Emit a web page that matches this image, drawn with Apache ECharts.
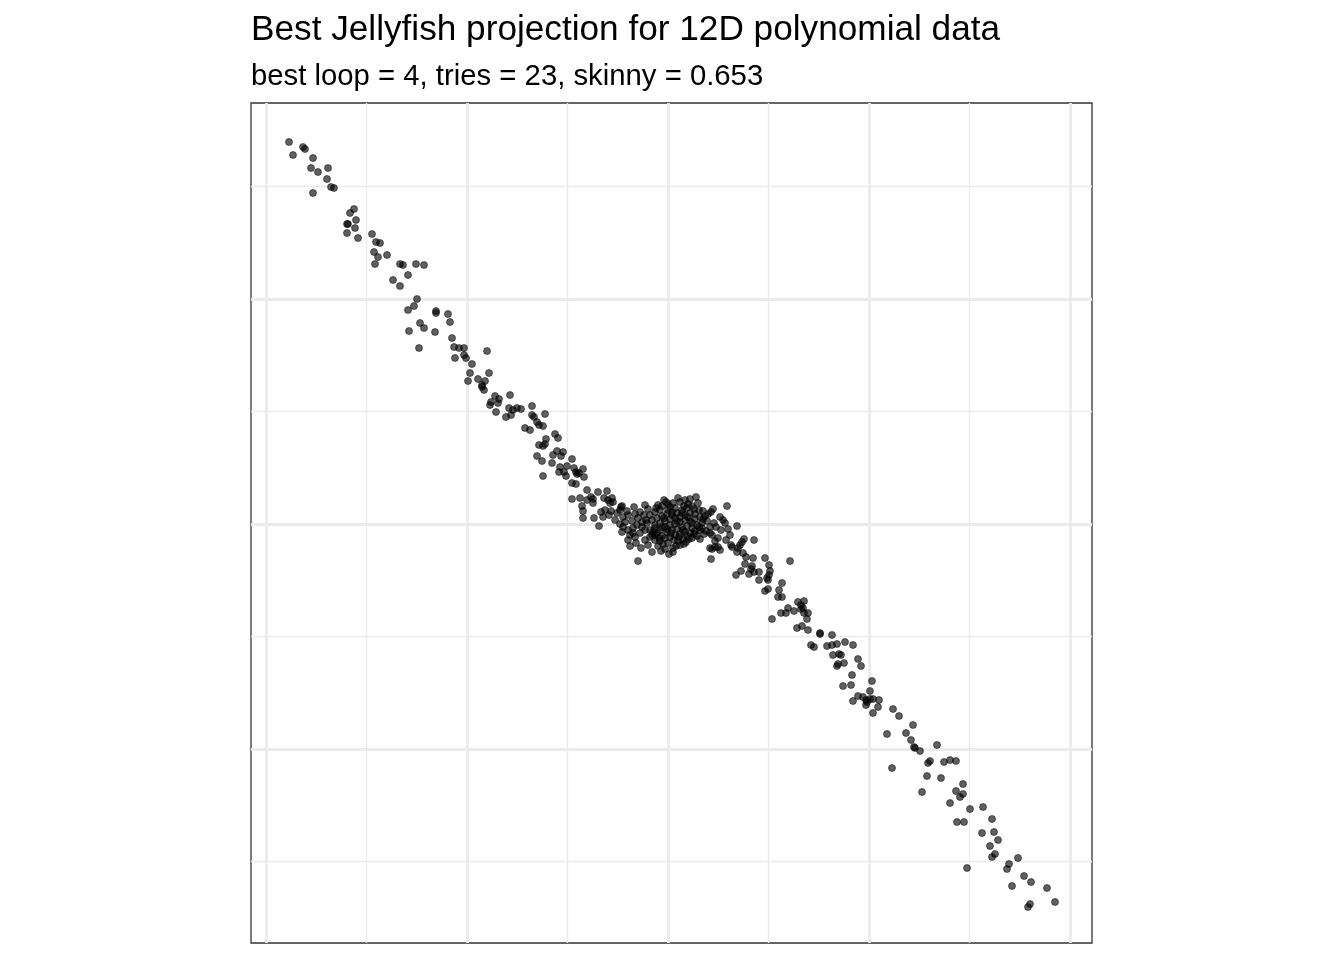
<!DOCTYPE html>
<html>
<head>
<meta charset="utf-8">
<script src="https://cdn.jsdelivr.net/npm/echarts@6/dist/echarts.min.js"></script>
<style>
html,body{margin:0;padding:0;background:#fff;}
#chart{width:1344px;height:960px;}
</style>
</head>
<body>
<div id="chart"></div>
<script>
// Projection coordinates (unit: plot pixels, origin at the central grid line)
const armUpperLeft = [
[-379,382],[-375,369],[-365,377],[-363,375],[-355,366],[-357,356],[-350,352],[-340,356],[-341,345],[-337,337],
[-334,336],[-355,331],[-314,315],[-318,311],[-312,304],[-321,300],[-320,300],[-313,296],[-321,291],[-310,286],
[-296,290],[-292,282],[-288,281],[-294,272],[-290,267],[-281,269],[-293,260],[-268,260],[-265,259],[-252,260],
[-244,259],[-260,249],[-275,244],[-268,238],[-251,225],[-260,214],[-254,218],[-232,213],[-232,211],[-220,210],
[-218,202],[-248,201],[-244,196],[-259,193],[-233,192],[-216,186],[-249,176],[-214,177],[-209,176],[-204,176],
[-213,166],[-204,169],[-202,166],[-196,160],[-181,173]
];
const armUpperMid = [
[-198,151],[-179,151],[-200,143],[-190,145],[-183,143],[-186,139],[-186,137],[-184,134],[-173,128],[-169,125],
[-158,129],[-177,122],[-178,119],[-170,121],[-172,112],[-159,116],[-155,114],[-151,116],[-147,115],[-157,109],
[-162,107],[-136,118],[-136,109],[-134,107],[-123,110],[-131,102],[-129,99],[-125,98],[-143,96],[-138,94],
[-113,90],[-110,86],[-122,85],[-129,79],[-125,78],[-123,80],[-111,73],[-115,69],[-105,72],[-107,68],
[-96,65],[-131,68],[-126,63],[-116,61],[-101,58],[-108,57],[-109,52],[-104,52],[-102,48],[-94,56],
[-92,52],[-91,50],[-85,55],[-84,47],[-89,51],[-125,48],[-96,41],[-92,40],[-81,34],[-70,32],
[-96,25],[-88,26],[-81,24],[-77,27],[-75,25],[-75,21],[-86,18],[-85,13],[-85,6],[-74,6],[-69,-2]
];
const coreLeft = [
[-61,33],[-64,26],[-60,24],[-56,26],[-55,22],[-58,21],[-67,12],[-63,14],[-57,13],[-59,9],
[-65,7],[-34,17],[-20,15],[-47,17],[-51,11],[-48,14],[-45,7],[-40,9],[-33,10],[-28,12],
[-30,6],[-41,13],[-53,4],[-48,0],[-43,2],[-36,3],[-45,-3],[-40,-6],[-35,-4],[-31,-1],
[-26,2],[-22,4],[-38,-11],[-33,-13],[-28,-9],[-23,-6],[-38,-22],[-27,-24],[-16,-28],[-30,-37],
[-23,-16],[-18,-13],[-13,-11],[-40,-16],[-32,-19],[-20,-21],[-35,-9],[-46,-8],[-46,18],[-6,18]
];
const coreCentre = [
[-18,9],[-13,12],[-8,14],[0,20],[5,21],[2,17],[7,16],[12,22],[17,24],[22,25],
[28,27],[30,21],[31,14],[-16,4],[-11,6],[-6,8],[-1,10],[4,12],[9,11],[14,14],
[19,16],[24,18],[-13,-1],[-8,1],[-3,3],[2,5],[7,6],[12,7],[17,9],[22,11],
[27,10],[-18,-6],[-13,-4],[-8,-6],[-3,-3],[2,-1],[7,0],[12,2],[17,4],[22,3],
[27,5],[32,7],[-16,-11],[-11,-9],[-6,-12],[-1,-8],[4,-6],[9,-5],[14,-3],[19,-2],
[24,-4],[29,-1],[34,1],[-13,-16],[-8,-17],[-3,-14],[2,-13],[7,-11],[12,-10],[17,-8],
[22,-9],[27,-7],[32,-6],[-10,-22],[-5,-20],[0,-19],[5,-24],[10,-17],[15,-15],[19,-12],
[24,-14],[29,-12],[-3,-25],[5,-28],[12,-21],[18,-18],[0,14],[-10,19],[-4,24],[10,26],
[-23,19],[20,20]
];
const coreFill = [
[-21,1],[-9,-14],[3,-9],[15,-6],[26,-10],[-4,6],[9,3],[20,7],[31,-3],[-15,-8],
[6,-16],[16,-20],[-1,-5],[11,-13],[24,1],[-6,-3],[4,9],[14,11],[26,15],[-12,16],
[-26,-3],[-24,9],[8,-22],[21,-15],[36,-10],[1,-30],[-7,-27],[16,18],[35,5],[-2,22]
];
const coreRight = [
[59,18],[45,15],[43,12],[40,10],[52,7],[55,4],[57,1],[69,-2],[39,3],[46,1],
[42,-3],[60,-5],[53,-6],[42,-9],[44,-11],[32,-15],[50,-14],[76,-15],[86,-16],[74,-18],
[72,-21],[70,-24],[63,-21],[64,-23],[42,-24],[44,-25],[47,-23],[50,-23],[52,-26],[75,-29],
[78,-33],[69,-28],[35,13],[37,8],[34,-4],[38,-7],[48,-3],[62,-11],[58,-16],[47,-17]
];
const armLowerMid = [
[43,-35],[85,-34],[97,-34],[122,-37],[77,-40],[84,-42],[101,-41],[83,-45],[73,-47],[86,-48],
[91,-48],[102,-47],[68,-51],[81,-50],[101,-51],[91,-56],[99,-54],[100,-56],[114,-59],[97,-67],
[100,-65],[111,-66],[110,-73],[114,-73],[130,-78],[136,-77],[133,-81],[133,-85],[135,-84],[120,-84],
[113,-89],[118,-89],[126,-87],[136,-89],[140,-89],[139,-95],[104,-95],[129,-104],[134,-102],[140,-106],
[152,-109],[152,-110],[164,-111],[143,-121],[146,-123],[159,-122],[164,-121],[169,-120],[177,-118],[185,-121],
[165,-131],[171,-130],[173,-131],[190,-135],[193,-142],[176,-139],[169,-142],[170,-140],[184,-151],[175,-162],
[183,-161],[204,-157],[202,-167],[190,-172],[195,-173],[185,-177],[198,-176],[199,-178],[202,-175],[205,-175],
[211,-176],[198,-181],[210,-183],[205,-189],[225,-185],[231,-192]
];
const armLowerRight = [
[245,-201],[219,-210],[238,-209],[243,-216],[246,-223],[247,-224],[252,-227],[269,-221],[224,-244],[260,-239],
[262,-237],[276,-238],[282,-236],[288,-237],[259,-252],[273,-254],[254,-268],[295,-260],[288,-267],[295,-270],
[292,-273],[282,-279],[302,-285],[315,-283],[324,-295],[289,-298],[296,-298],[314,-309],[326,-308],[330,-316],
[322,-322],[324,-333],[327,-330],[350,-334],[341,-340],[339,-345],[299,-344],[356,-352],[363,-358],[344,-362],
[379,-364],[387,-378],[362,-380],[360,-383]
];

// Grid break positions (same units)
const xMajorBreaks = [-402, -201, 0, 201, 402];
const xMinorBreaks = [-301.5, -100.5, 100.5, 301.5];
const yMajorBreaks = [-225, 0, 225];
const yMinorBreaks = [-337.5, -112.5, 112.5, 337.5];

const titleText = 'Best Jellyfish projection for 12D polynomial data';
const subtitleText = 'best loop = 4, tries = 23, skinny = 0.653';

const points = [].concat(armUpperLeft, armUpperMid, coreLeft, coreCentre, coreFill, coreRight, armLowerMid, armLowerRight);

const FONT = '"Liberation Sans", Arial, Helvetica, sans-serif';
const gridLines = [];
xMinorBreaks.forEach(v => gridLines.push({xAxis: v, lineStyle: {width: 1.4}}));
yMinorBreaks.forEach(v => gridLines.push({yAxis: v, lineStyle: {width: 1.4}}));
xMajorBreaks.forEach(v => gridLines.push({xAxis: v, lineStyle: {width: 2.8}}));
yMajorBreaks.forEach(v => gridLines.push({yAxis: v, lineStyle: {width: 2.8}}));

const chart = echarts.init(document.getElementById('chart'), null, {renderer: 'canvas'});
chart.setOption({
  animation: false,
  backgroundColor: '#ffffff',
  title: [
    {text: titleText, left: 246, top: 8,
     textStyle: {fontFamily: FONT, fontSize: 35.2, fontWeight: 'normal', color: '#000'}},
    {text: subtitleText, left: 246, top: 57,
     textStyle: {fontFamily: FONT, fontSize: 29.3, fontWeight: 'normal', color: '#000'}}
  ],
  grid: {left: 251, top: 103, width: 841, height: 840, show: true,
         borderColor: '#333333', borderWidth: 1.3, backgroundColor: 'transparent', containLabel: false},
  xAxis: {type: 'value', min: -417, max: 424, axisLine: {show: false}, axisTick: {show: false},
          axisLabel: {show: false}, splitLine: {show: false}},
  yAxis: {type: 'value', min: -419, max: 421, axisLine: {show: false}, axisTick: {show: false},
          axisLabel: {show: false}, splitLine: {show: false}},
  series: [
    {type: 'scatter', data: [], silent: true, z: 1,
     markLine: {silent: true, symbol: ['none', 'none'], label: {show: false},
                lineStyle: {color: '#ebebeb', type: 'solid'}, animation: false,
                data: gridLines}},
    {type: 'scatter', data: points, symbol: 'circle', symbolSize: 7, z: 5,
     itemStyle: {color: 'rgba(0,0,0,0.78)', borderColor: 'rgba(0,0,0,0.6)', borderWidth: 1},
     emphasis: {disabled: true}}
  ]
});
</script>
</body>
</html>
